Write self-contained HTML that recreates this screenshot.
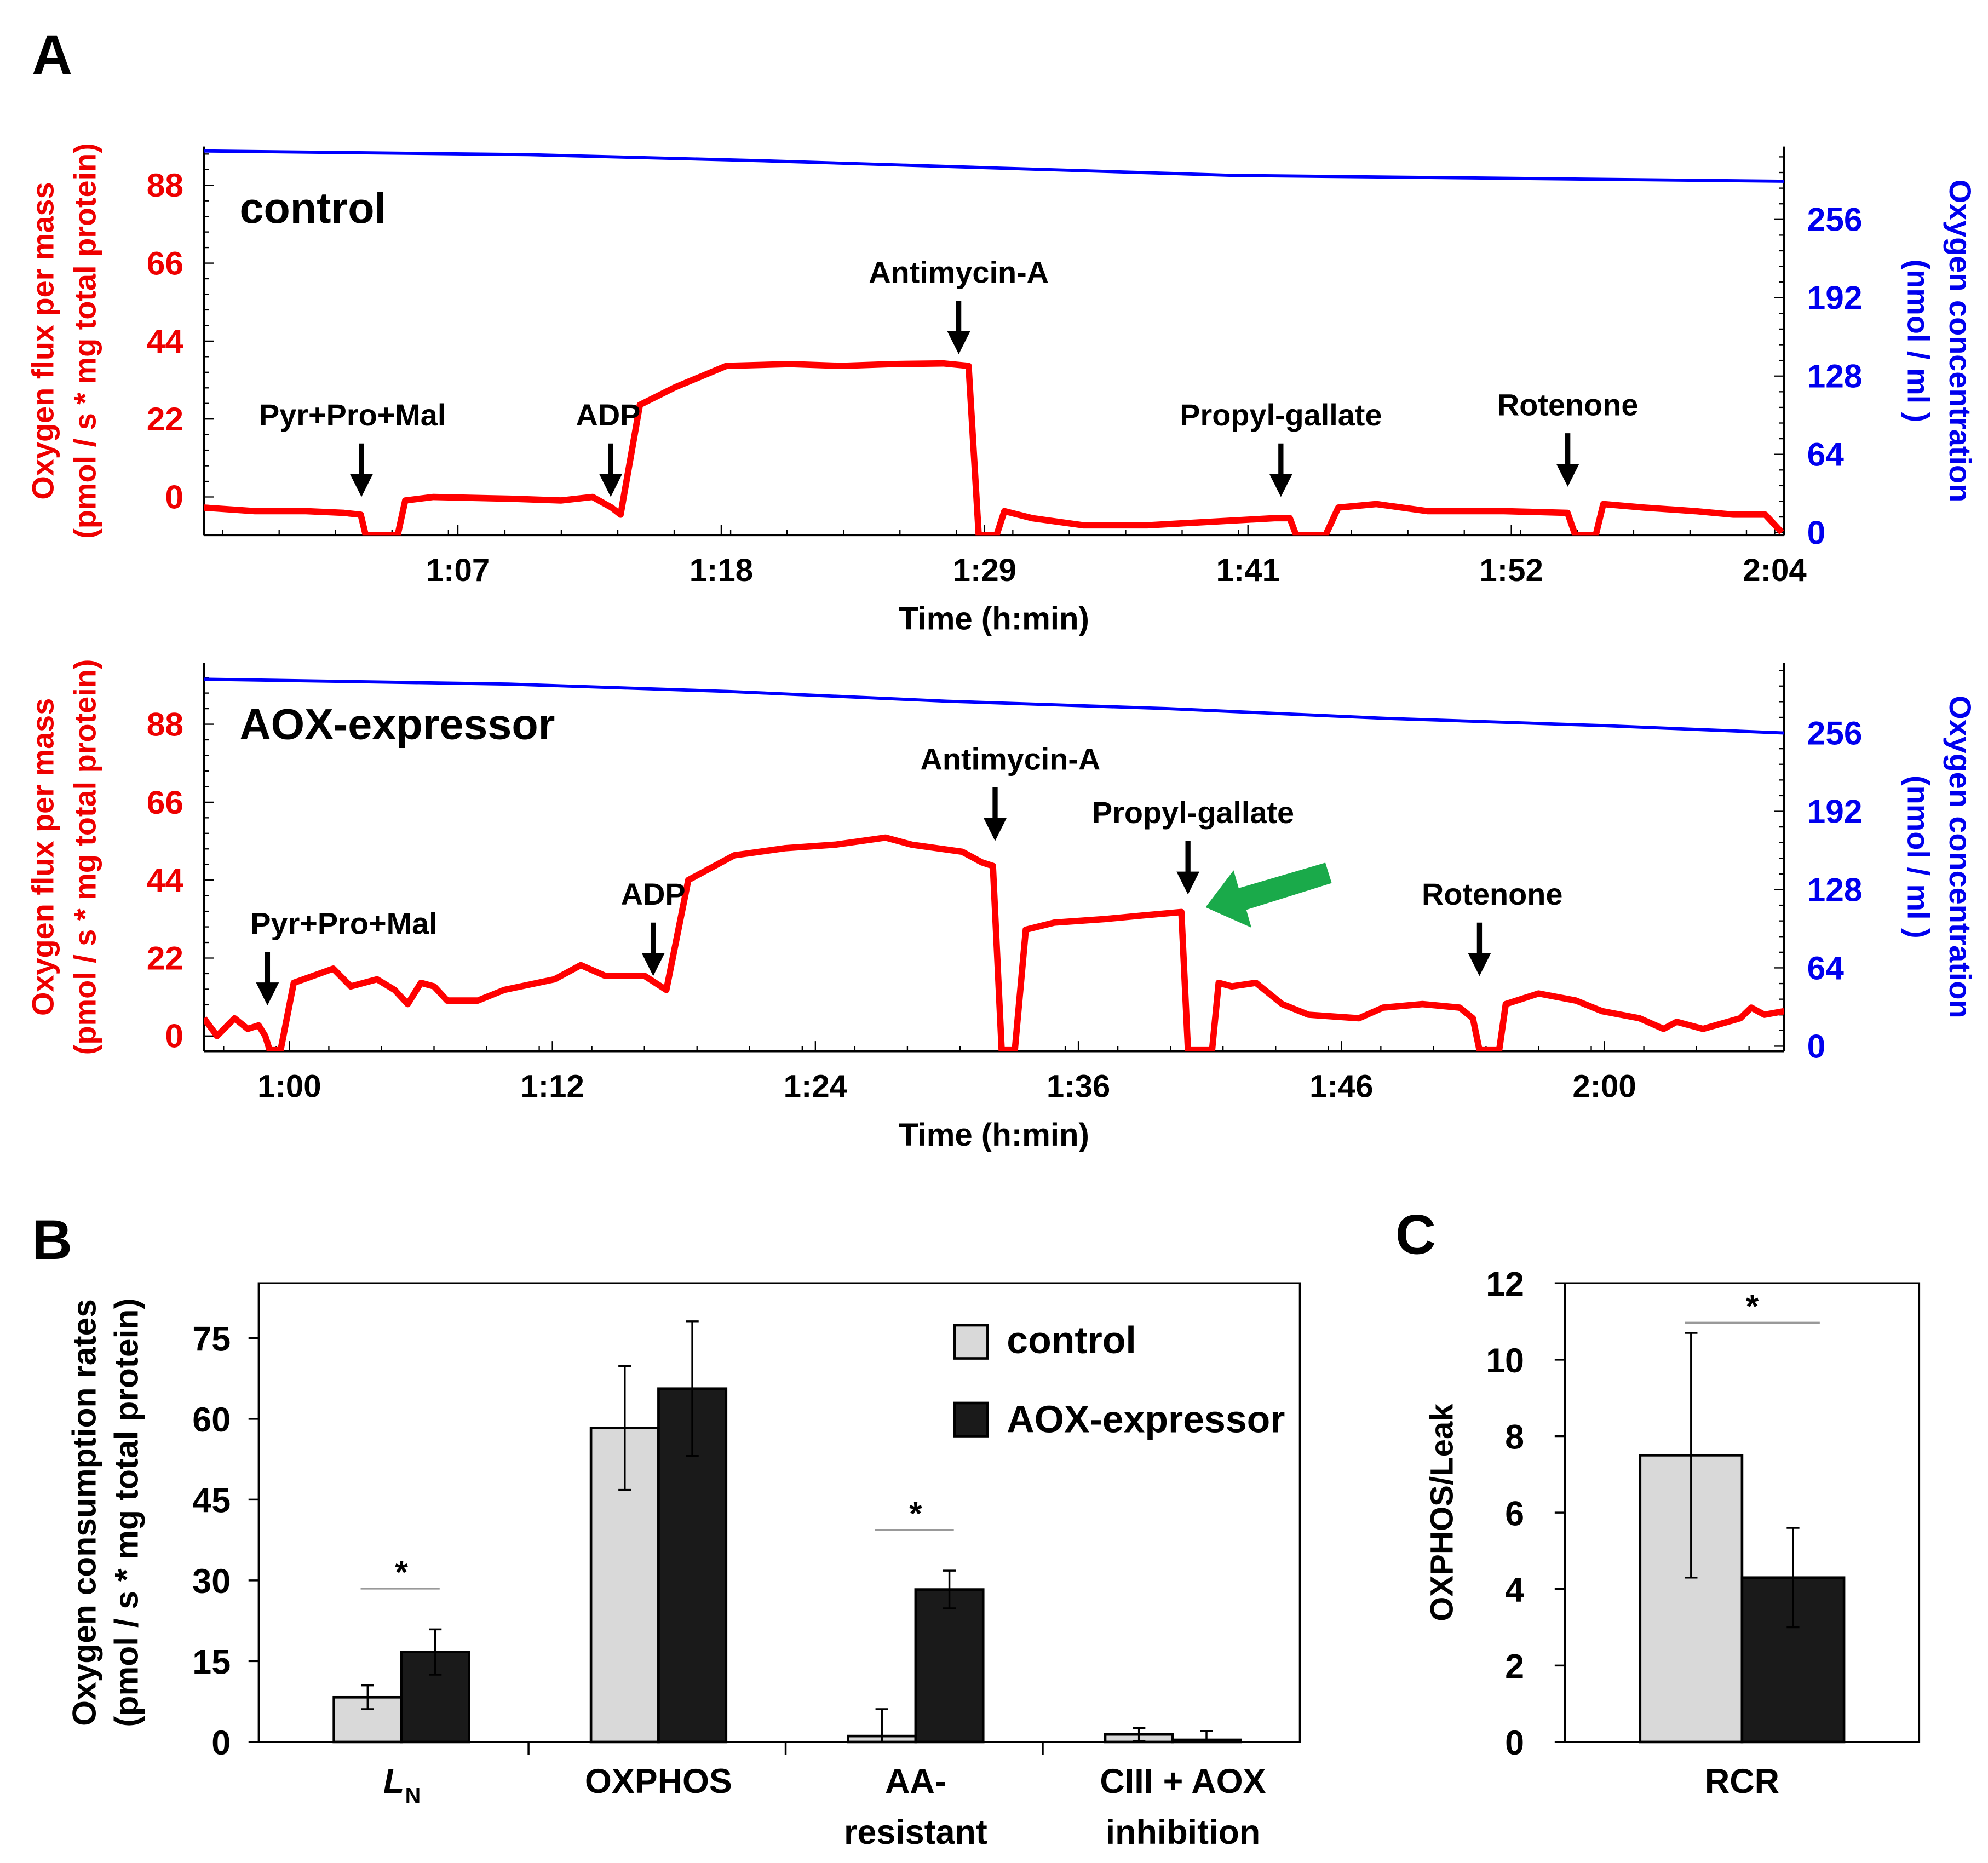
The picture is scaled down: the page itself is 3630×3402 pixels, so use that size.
<!DOCTYPE html>
<html><head><meta charset="utf-8">
<style>
html,body{margin:0;padding:0;background:#fff;}
svg{display:block;font-family:"Liberation Sans",Arial,sans-serif;}
text{font-weight:bold;}
</style></head>
<body>
<svg id="fig" xmlns="http://www.w3.org/2000/svg" width="3630" height="3402" viewBox="0 0 1560 1462" preserveAspectRatio="none">
<rect width="1560" height="1462" fill="#fff"/>
<text x="25" y="58" font-size="44">A</text>
<text x="25" y="988" font-size="44">B</text>
<text x="1095" y="984" font-size="44">C</text>
<g id="g"></g>
</svg>
<script>
// ---- Panel A top (control) data ----
const topTime = [56.2,58.37,60.54,62.16,62.87,63.08,64.44,64.76,65.96,69.21,71.38,72.73,73.54,73.92,74.74,76.25,78.42,81.13,83.3,85.47,87.64,88.72,89.15,89.91,90.24,91.43,93.6,96.31,99.02,101.73,102.38,102.65,103.9,104.44,106.06,108.23,111.48,114.19,114.52,115.39,115.71,117.45,119.62,121.24,122.6,123.3];
const topFlux = [-3,-4,-4,-4.5,-5,-11,-11,-1,0,-0.5,-1,0,-3,-5,26,31,37,37.5,37,37.5,37.7,37,-11,-11,-4,-6,-8,-8,-7,-6,-6,-11,-11,-3,-2,-4,-4,-4.5,-11,-11,-2,-3,-4,-5,-5,-10];
const topO2Time = [56.2,70,80,90,100,110,124.6];
const topO2 = [312,309,304,298,292,290,287];
// ---- Panel A bottom (AOX) data ----
const botTime = [56.1,56.7,57.5,58.1,58.6,58.9,59.1,59.6,60.2,61.1,62,62.8,64,64.8,65.4,66,66.6,67.2,68.6,69.8,72.1,73.3,74.4,76.2,77.2,78.2,79.1,80.3,82.6,84.9,87.2,88.4,90.7,91.6,92.1,92.5,93.1,93.6,94.9,97.2,98.9,100.7,101,102.1,102.4,103,104.1,105.3,106.5,108.8,109.9,111.7,113.4,114,114.3,115.2,115.5,117,118.7,119.9,121.6,122.7,123.3,124.5,126.2,126.7,127.3,128.2];
const botFlux = [5,0,5,2,3,0,-4,-4,15,17,19,14,16,13,9,15,14,10,10,13,16,20,17,17,13,44,47,51,53,54,56,54,52,49,48,-4,-4,30,32,33,34,35,-4,-4,15,14,15,9,6,5,8,9,8,5,-4,-4,9,12,10,7,5,2,4,2,5,8,6,7];
const botO2Time = [56.1,70,80,90,100,110,120,128.2];
const botO2 = [300,296,290,282,276,268,262,256];
// ---- Panel B data ----
const bCats = ["L","OXPHOS","AA-|resistant","CIII + AOX|inhibition"];
const bCtrl = [8.3,58.3,1.1,1.4];
const bCtrlErr = [2.2,11.5,5.0,1.2];
const bAox = [16.7,65.6,28.3,0.4];
const bAoxErr = [4.2,12.5,3.5,1.6];
const bTicks = [0,15,30,45,60,75];
// ---- Panel C data ----
const cCtrl = [7.5]; const cCtrlErr = [3.2];
const cAox = [4.3]; const cAoxErr = [1.3];
const cTicks = [0,2,4,6,8,10,12];

const NS="http://www.w3.org/2000/svg";
const G=document.getElementById('g');
function el(t,a,p){const e=document.createElementNS(NS,t);for(const k in a)e.setAttribute(k,a[k]);(p||G).appendChild(e);return e;}
function txt(x,y,s,size,fill,anchor,p){const e=el('text',{x:x,y:y,'font-size':size,fill:fill||'#000','text-anchor':anchor||'middle'},p);e.textContent=s;return e;}

function tracePanel(cfg){
  const {x0,x1,yTop,yBot,tmin,tmax,fy0,fk,oy0,ok,ticks,tickLabels,time,flux,oT,o,arrows,title,prefix}=cfg;
  const X=t=>x0+(t-tmin)/(tmax-tmin)*(x1-x0);
  const Y=f=>fy0-f*fk;
  const YO=v=>oy0-v*ok;
  let a=el('line',{x1:x0,y1:yTop,x2:x0,y2:yBot,stroke:'#000','stroke-width':1.5});
  
  a=el('line',{x1:x1,y1:yTop,x2:x1,y2:yBot,stroke:'#000','stroke-width':1.5});
  
  a=el('line',{x1:x0,y1:yBot,x2:x1,y2:yBot,stroke:'#000','stroke-width':1.5});
  
  [0,22,44,66,88].forEach(v=>{
    for(let m=0;m<5;m++){const yy=Y(v+m*4.4);if(yy>yTop)el('line',{x1:x0,y1:yy,x2:x0+(m?4:8),y2:yy,stroke:'#000'});}
    const t=txt(x0-16,Y(v)+9,String(v),26,'#e00','end');
    
  });
  [0,64,128,192,256].forEach(v=>{
    for(let m=0;m<5;m++){const yy=YO(v+m*12.8);if(yy>yTop)el('line',{x1:x1,y1:yy,x2:x1-(m?4:8),y2:yy,stroke:'#000'});}
    const t=txt(x1+18,YO(v)+9,String(v),26,'#00e','start');
    
  });
  for(let t=Math.ceil(tmin);t<=tmax;t+=2.4){el('line',{x1:X(t),y1:yBot,x2:X(t),y2:yBot-4,stroke:'#000'});}
  ticks.forEach((t,i)=>{el('line',{x1:X(t),y1:yBot,x2:X(t),y2:yBot-8,stroke:'#000'});
    const l=txt(X(t),yBot+36,tickLabels[i],25);
    });
  const xt=txt((x0+x1)/2,yBot+74,'Time (h:min)',25);
  
  const ly=(yTop+yBot)/2;
  const l1=txt(0,0,'Oxygen flux per mass',24,'#e00');l1.setAttribute('transform',`translate(42 ${ly}) rotate(-90)`);
  
  const l2=txt(0,0,'(pmol / s * mg total protein)',24,'#e00');l2.setAttribute('transform',`translate(75 ${ly}) rotate(-90)`);
  
  const r1=txt(0,0,'Oxygen concentration',24,'#00e');r1.setAttribute('transform',`translate(1530 ${ly}) rotate(90)`);
  
  const r2=txt(0,0,'(nmol / ml )',24,'#00e');r2.setAttribute('transform',`translate(1497 ${ly}) rotate(90)`);
  
  const tt=txt(188,yTop+60,title,34,'#000','start');
  
  const clip=el('clipPath',{id:prefix+'clip'});el('rect',{x:x0,y:yTop,width:x1-x0,height:yBot-yTop},clip);
  const bl=el('polyline',{points:oT.map((t,i)=>X(t)+','+YO(o[i])).join(' '),fill:'none',stroke:'#00f','stroke-width':2.5,'clip-path':`url(#${prefix}clip)`});
  
  const rl=el('polyline',{points:time.map((t,i)=>X(t)+','+Math.min(yBot,Y(flux[i]))).join(' '),fill:'none',stroke:'#f00','stroke-width':5,'stroke-linejoin':'round','clip-path':`url(#${prefix}clip)`});
  
  arrows.forEach(ar=>{
    const ax=X(ar.t);
    const g=el('g',{});
    el('line',{x1:ax,y1:ar.y,x2:ax,y2:ar.y+28,stroke:'#000','stroke-width':4},g);
    el('polygon',{points:`${ax-9},${ar.y+24} ${ax+9},${ar.y+24} ${ax},${ar.y+42}`,fill:'#000'},g);
    txt(ax+(ar.dx||0),ar.y-14,ar.label,24,'#000','middle',g);
  });
  return {X,Y};
}
tracePanel({prefix:'control',x0:160,x1:1400,yTop:115,yBot:420,tmin:56.2,tmax:123.4,fy0:390,fk:2.78,oy0:418,ok:0.96,
  ticks:[67,78.2,89.4,100.6,111.8,123],tickLabels:['1:07','1:18','1:29','1:41','1:52','2:04'],
  time:topTime,flux:topFlux,oT:topO2Time,o:topO2,title:'control',
  arrows:[{t:62.9,y:348,label:'Pyr+Pro+Mal',dx:-7,name:'pyr-pro-mal'},{t:73.5,y:348,label:'ADP',dx:-2,name:'adp'},
  {t:88.3,y:236,label:'Antimycin-A',name:'antimycin-a'},{t:102,y:348,label:'Propyl-gallate',name:'propyl-gallate'},{t:114.2,y:340,label:'Rotenone',name:'rotenone'}]});
tracePanel({prefix:'aox',x0:160,x1:1400,yTop:520,yBot:825,tmin:56.1,tmax:128.2,fy0:813,fk:2.78,oy0:821,ok:0.96,
  ticks:[60,72,84,96,108,120],tickLabels:['1:00','1:12','1:24','1:36','1:46','2:00'],
  time:botTime,flux:botFlux,oT:botO2Time,o:botO2,title:'AOX-expressor',
  arrows:[{t:59,y:747,label:'Pyr+Pro+Mal',dx:60,name:'aox-pyr-pro-mal'},{t:76.6,y:724,label:'ADP',name:'aox-adp'},
  {t:92.2,y:618,label:'Antimycin-A',dx:12,name:'aox-antimycin-a'},{t:101,y:660,label:'Propyl-gallate',dx:4,name:'aox-propyl-gallate'},{t:114.3,y:724,label:'Rotenone',dx:10,name:'aox-rotenone'}]});
const ga=el('polygon',{points:'1040,677 1045,693 978,714 982,728 946,712 968,683 972,697',fill:'#1aaa4a'});


// ---- Panel B ----
(function(){
  const x0=203,x1=1020,yT=1007,yB=1367,k=(1367-1050)/75;
  const Y=v=>yB-v*k; const gw=(x1-x0-10)/4; const cx=i=>315+i*gw; const bw=53;
  let f=el('rect',{x:x0,y:yT,width:x1-x0,height:yB-yT,fill:'none',stroke:'#000','stroke-width':1.5});
  
  bTicks.forEach(v=>{el('line',{x1:x0-8,y1:Y(v),x2:x0,y2:Y(v),stroke:'#000','stroke-width':1.5});
    const t=txt(x0-22,Y(v)+10,String(v),27,'#000','end');});
  for(let i=1;i<4;i++)el('line',{x1:x0+i*gw+10,y1:yB,x2:x0+i*gw+10,y2:yB+10,stroke:'#000','stroke-width':1.5});
  bCats.forEach((c,i)=>{
    const g=el('g',{});
    const r1=el('rect',{x:cx(i)-bw,y:Y(bCtrl[i]),width:bw,height:bCtrl[i]*k,fill:'#d9d9d9',stroke:'#000','stroke-width':2},g);
    
    const r2=el('rect',{x:cx(i),y:Y(bAox[i]),width:bw,height:bAox[i]*k,fill:'#1a1a1a',stroke:'#000','stroke-width':2},g);
    
    [[cx(i)-bw/2,bCtrl[i],bCtrlErr[i]],[cx(i)+bw/2,bAox[i],bAoxErr[i]]].forEach(([x,v,e])=>{
      el('line',{x1:x,y1:Y(v+e),x2:x,y2:Y(Math.max(0,v-e)),stroke:'#000','stroke-width':1.5},g);
      el('line',{x1:x-5,y1:Y(v+e),x2:x+5,y2:Y(v+e),stroke:'#000','stroke-width':1.5},g);
      el('line',{x1:x-5,y1:Y(Math.max(0,v-e)),x2:x+5,y2:Y(Math.max(0,v-e)),stroke:'#000','stroke-width':1.5},g);
    });
    const parts=c.split('|');
    if(i===0){const t=txt(cx(i)-6,yB+40,'L',27,'#000','middle',g);t.setAttribute('font-style','italic');txt(cx(i)+9,yB+48,'N',17,'#000','middle',g);}
    else parts.forEach((p,j)=>txt(cx(i)+(i===3?8:0),yB+40+j*40,p,27,'#000','middle',g));
  });
  [0,2].forEach(i=>{const top=Math.max(bCtrl[i]+bCtrlErr[i],bAox[i]+bAoxErr[i]);const yy=Y(top)-32;
    const g=el('g',{});
    el('line',{x1:cx(i)-32,y1:yy,x2:cx(i)+30,y2:yy,stroke:'#999','stroke-width':1.5},g);txt(cx(i),yy-4,'*',26,'#000','middle',g);});
  const t1=txt(0,0,'Oxygen consumption rates',26);t1.setAttribute('transform','translate(75 1187) rotate(-90)');
  
  const t2=txt(0,0,'(pmol / s * mg total protein)',26);t2.setAttribute('transform','translate(108 1187) rotate(-90)');
  
  const lg=el('g',{});
  el('rect',{x:749,y:1040,width:26,height:26,fill:'#d9d9d9',stroke:'#000','stroke-width':2},lg);
  txt(790,1062,'control',30,'#000','start',lg);
  el('rect',{x:749,y:1101,width:26,height:26,fill:'#1a1a1a',stroke:'#000','stroke-width':2},lg);
  txt(790,1124,'AOX-expressor',30,'#000','start',lg);
})();

// ---- Panel C ----
(function(){
  const x0=1228,x1=1506,yT=1007,yB=1367,k=30;const Y=v=>yB-v*k;
  let f=el('rect',{x:x0,y:yT,width:x1-x0,height:yB-yT,fill:'none',stroke:'#000','stroke-width':1.5});
  
  cTicks.forEach(v=>{el('line',{x1:x0-8,y1:Y(v),x2:x0,y2:Y(v),stroke:'#000','stroke-width':1.5});
    const t=txt(x0-32,Y(v)+10,String(v),27,'#000','end');});
  const r1=el('rect',{x:1287,y:Y(cCtrl[0]),width:80,height:cCtrl[0]*k,fill:'#d9d9d9',stroke:'#000','stroke-width':2});
  
  const r2=el('rect',{x:1367,y:Y(cAox[0]),width:80,height:cAox[0]*k,fill:'#1a1a1a',stroke:'#000','stroke-width':2});
  
  [[1327,cCtrl[0],cCtrlErr[0]],[1407,cAox[0],cAoxErr[0]]].forEach(([x,v,e])=>{
    el('line',{x1:x,y1:Y(v+e),x2:x,y2:Y(v-e),stroke:'#000','stroke-width':1.5});
    el('line',{x1:x-5,y1:Y(v+e),x2:x+5,y2:Y(v+e),stroke:'#000','stroke-width':1.5});
    el('line',{x1:x-5,y1:Y(v-e),x2:x+5,y2:Y(v-e),stroke:'#000','stroke-width':1.5});});
  el('line',{x1:1322,y1:1038,x2:1428,y2:1038,stroke:'#999','stroke-width':1.5});
  const s=txt(1375,1034,'*',26);
  const xl=txt(1367,1407,'RCR',27);
  const yt=txt(0,0,'OXPHOS/Leak',25);yt.setAttribute('transform','translate(1140 1187) rotate(-90)');
  
})();
</script>
</body></html>
